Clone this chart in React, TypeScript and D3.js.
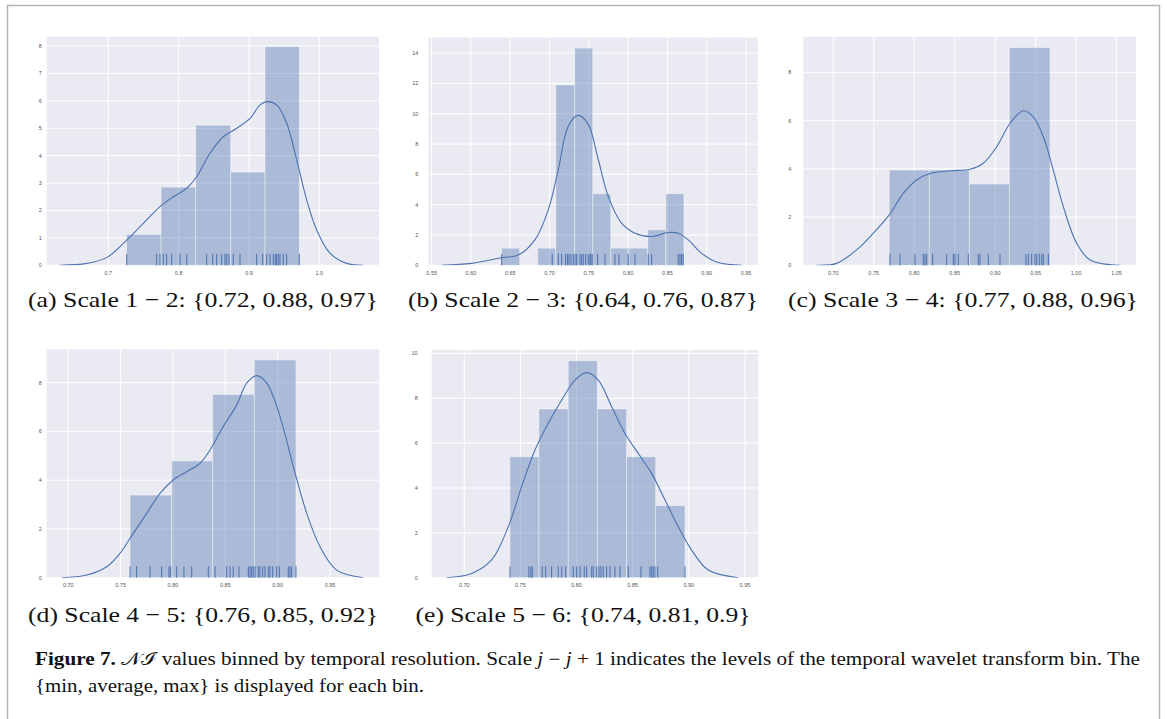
import * as d3 from "d3";

// ---- panel (a) Scale 1-2
const edgesA = [0.726, 0.775, 0.8243, 0.874, 0.9228, 0.9716];
const heightsA = [1.12, 2.85, 5.11, 3.4, 7.98];
const rugA = [0.7262, 0.7688, 0.7735, 0.7782, 0.783, 0.7901, 0.8019, 0.8115, 0.8399, 0.8484, 0.8541, 0.8612, 0.8659, 0.8684, 0.8716, 0.8777, 0.8873, 0.911, 0.9195, 0.9252, 0.9299, 0.9346, 0.9375, 0.9394, 0.9417, 0.9441, 0.9488, 0.9537, 0.9716];
const kdeA: [number, number][] = [[0.6313, 0], [0.6693, 0.07], [0.6977, 0.28], [0.7262, 0.92], [0.7498, 1.53], [0.7735, 2.14], [0.7924, 2.5], [0.8115, 2.81], [0.8257, 3.23], [0.8446, 4.09], [0.8635, 4.69], [0.8826, 5.0], [0.9015, 5.36], [0.9157, 5.85], [0.9252, 5.97], [0.9394, 5.85], [0.9537, 5.18], [0.9679, 3.84], [0.9821, 2.38], [0.9963, 1.29], [1.0152, 0.44], [1.039, 0.07], [1.0626, 0]];
const xTicksA = [0.7, 0.8, 0.9, 1.0];
const yTicksA = [0, 1, 2, 3, 4, 5, 6, 7, 8];

// ---- panel (b) Scale 2-3
const edgesB = [0.639, 0.662, 0.685, 0.708, 0.732, 0.755, 0.778, 0.801, 0.825, 0.848, 0.871];
const heightsB = [1.13, 0, 1.13, 11.9, 14.33, 4.72, 1.13, 1.13, 2.34, 4.72];
const rugB = [0.6391, 0.7034, 0.7111, 0.7154, 0.7205, 0.723, 0.7247, 0.7272, 0.7302, 0.7323, 0.7345, 0.7387, 0.7408, 0.7429, 0.7459, 0.7492, 0.7514, 0.7527, 0.7543, 0.7612, 0.7705, 0.7832, 0.7883, 0.8001, 0.8087, 0.8256, 0.8299, 0.8637, 0.8659, 0.868, 0.8701];
const kdeB: [number, number][] = [[0.5627, 0], [0.6009, 0.13], [0.6391, 0.5], [0.6602, 0.68], [0.6814, 1.68], [0.6984, 3.66], [0.7111, 6.3], [0.7238, 9.18], [0.7365, 9.89], [0.7492, 9.3], [0.762, 6.98], [0.7747, 4.55], [0.7917, 2.78], [0.8087, 2.12], [0.8299, 1.9], [0.851, 2.16], [0.8637, 2.12], [0.8765, 1.68], [0.8935, 0.79], [0.9146, 0.18], [0.9444, 0]];
const xTicksB = [0.55, 0.6, 0.65, 0.7, 0.75, 0.8, 0.85, 0.9, 0.95];
const yTicksB = [0, 2, 4, 6, 8, 10, 12, 14];

// ---- panel (c) Scale 3-4
const edgesC = [0.7692, 0.8186, 0.868, 0.9175, 0.9678];
const heightsC = [3.95, 3.95, 3.37, 9.03];
const rugC = [0.7701, 0.7824, 0.801, 0.8112, 0.8133, 0.8154, 0.8228, 0.8401, 0.8483, 0.8504, 0.8545, 0.8668, 0.8792, 0.8813, 0.8915, 0.906, 0.9381, 0.941, 0.9451, 0.9492, 0.9513, 0.9545, 0.9575, 0.9595, 0.9657];
const kdeC: [number, number][] = [[0.6795, 0], [0.7042, 0.08], [0.7289, 0.64], [0.7494, 1.33], [0.7692, 2.09], [0.7865, 2.98], [0.803, 3.54], [0.8195, 3.81], [0.8442, 3.92], [0.8689, 3.98], [0.8853, 4.23], [0.9019, 4.92], [0.9183, 5.88], [0.9348, 6.41], [0.9471, 6.16], [0.9595, 5.33], [0.9718, 3.95], [0.9842, 2.43], [1.0008, 0.91], [1.0172, 0.22], [1.054, 0]];
const xTicksC = [0.7, 0.75, 0.8, 0.85, 0.9, 0.95, 1.0, 1.05];
const yTicksC = [0, 2, 4, 6, 8];

// ---- panel (d) Scale 4-5
const edgesD = [0.759, 0.7988, 0.838, 0.8777, 0.9175];
const heightsD = [3.39, 4.79, 7.52, 8.93];
const rugD = [0.759, 0.7653, 0.7781, 0.7892, 0.7962, 0.7978, 0.8036, 0.8105, 0.8179, 0.8338, 0.8402, 0.8513, 0.8545, 0.8576, 0.8631, 0.872, 0.8736, 0.8752, 0.8767, 0.8784, 0.8815, 0.8831, 0.8857, 0.8879, 0.8911, 0.8927, 0.8953, 0.8991, 0.9016, 0.9102, 0.9118, 0.9134, 0.9175];
const kdeD: [number, number][] = [[0.6937, 0], [0.7176, 0.11], [0.7367, 0.45], [0.7494, 1.0], [0.7621, 1.82], [0.7749, 2.64], [0.7876, 3.46], [0.8003, 4.01], [0.8131, 4.35], [0.8258, 4.69], [0.8354, 5.24], [0.8481, 6.2], [0.8609, 7.09], [0.8704, 7.98], [0.88, 8.29], [0.8896, 7.98], [0.9023, 6.61], [0.915, 4.56], [0.9278, 2.64], [0.9405, 1.27], [0.9564, 0.31], [0.9818, 0]];
const xTicksD = [0.7, 0.75, 0.8, 0.85, 0.9, 0.95];
const yTicksD = [0, 2, 4, 6, 8];

// ---- panel (e) Scale 5-6
const edgesE = [0.7407, 0.7665, 0.7926, 0.8185, 0.8446, 0.8705, 0.8966];
const heightsE = [5.39, 7.52, 9.67, 7.52, 5.39, 3.21];
const rugE = [0.7407, 0.7576, 0.7594, 0.7606, 0.7695, 0.7725, 0.7778, 0.7837, 0.7868, 0.7903, 0.7971, 0.8001, 0.8031, 0.8069, 0.809, 0.8135, 0.8149, 0.8179, 0.82, 0.8218, 0.8238, 0.8268, 0.8298, 0.8342, 0.8387, 0.8461, 0.8574, 0.8654, 0.8669, 0.8683, 0.8699, 0.8723, 0.8966];
const kdeE: [number, number][] = [[0.6843, 0], [0.7066, 0.19], [0.7244, 0.79], [0.7392, 2.27], [0.7511, 4.06], [0.763, 5.69], [0.7748, 6.88], [0.7868, 7.92], [0.7986, 8.81], [0.809, 9.14], [0.8194, 8.81], [0.8313, 7.62], [0.8431, 6.43], [0.855, 5.54], [0.8669, 4.65], [0.8788, 3.46], [0.8906, 2.27], [0.9025, 1.23], [0.9173, 0.34], [0.944, 0]];
const xTicksE = [0.7, 0.75, 0.8, 0.85, 0.9, 0.95];
const yTicksE = [0, 2, 4, 6, 8, 10];

const captions = [
  "(a) Scale 1 \u2212 2: {0.72, 0.88, 0.97}",
  "(b) Scale 2 \u2212 3: {0.64, 0.76, 0.87}",
  "(c) Scale 3 \u2212 4: {0.77, 0.88, 0.96}",
  "(d) Scale 4 \u2212 5: {0.76, 0.85, 0.92}",
  "(e) Scale 5 \u2212 6: {0.74, 0.81, 0.9}",
];

const BLUE = "#4C72B0";

type PanelProps = {
  id: string;
  box: { l: number; r: number; t: number; b: number };
  xDomain: [number, number];
  yMax: number;
  edges: number[];
  heights: number[];
  rug: number[];
  kde: [number, number][];
  xTicks: number[];
  yTicks: number[];
  xFmt: string;
  yLabelGap: number;
};

const Panel = (p: PanelProps) => {
  const { l, r, t, b } = p.box;
  const x = d3.scaleLinear().domain(p.xDomain).range([l, r]);
  const y = d3.scaleLinear().domain([0, p.yMax]).range([b, t]);
  const fmt = d3.format(p.xFmt);
  const line = d3
    .line<[number, number]>()
    .x((d) => x(d[0]))
    .y((d) => y(d[1]))
    .curve(d3.curveCatmullRom);
  const rugH = (b - t) * 0.05;

  return (
    <g>
      <defs>
        <clipPath id={"clip" + p.id}>
          <rect x={l} y={t} width={r - l} height={b - t} />
        </clipPath>
      </defs>
      <rect x={l} y={t} width={r - l} height={b - t} fill="#EAEAF2" />
      {p.yTicks.map((v) => (
        <line key={"gy" + v} x1={l} x2={r} y1={y(v)} y2={y(v)} stroke="#fff" strokeWidth={1} />
      ))}
      {p.xTicks.map((v) => (
        <line key={"gx" + v} x1={x(v)} x2={x(v)} y1={t} y2={b} stroke="#fff" strokeWidth={1} />
      ))}
      {p.heights.map((h, i) => (
        <rect
          key={"bar" + i}
          x={x(p.edges[i])}
          y={y(h)}
          width={x(p.edges[i + 1]) - x(p.edges[i])}
          height={b - y(h)}
          fill={BLUE}
          fillOpacity={0.4}
          stroke="#fff"
          strokeOpacity={0.5}
          strokeWidth={0.8}
        />
      ))}
      <g clipPath={`url(#clip${p.id})`}>
        <path d={line(p.kde) || ""} fill="none" stroke={BLUE} strokeWidth={1.1} />
      </g>
      {p.rug.map((v, i) => (
        <line key={"rug" + i} x1={x(v)} x2={x(v)} y1={b} y2={b - rugH} stroke={BLUE} strokeWidth={1} />
      ))}
      {p.xTicks.map((v) => (
        <text key={"tx" + v} x={x(v)} y={b + 9.5} textAnchor="middle" fontSize={5.5} fill="#555" fontFamily="Liberation Sans, Arial, sans-serif">
          {fmt(v)}
        </text>
      ))}
      {p.yTicks.map((v) => (
        <text key={"ty" + v} x={l - p.yLabelGap} y={y(v) + 2} textAnchor="end" fontSize={5.5} fill="#555" fontFamily="Liberation Sans, Arial, sans-serif">
          {v}
        </text>
      ))}
    </g>
  );
};

const panels: PanelProps[] = [
  { id: "a", box: { l: 46.7, r: 379, t: 36.7, b: 265.3 }, xDomain: [0.6124, 1.0849], yMax: 8.34, edges: edgesA, heights: heightsA, rug: rugA, kde: kdeA, xTicks: xTicksA, yTicks: yTicksA, xFmt: ".1f", yLabelGap: 5 },
  { id: "b", box: { l: 428.3, r: 757.7, t: 37.5, b: 265.3 }, xDomain: [0.5457, 0.9649], yMax: 15.03, edges: edgesB, heights: heightsB, rug: rugB, kde: kdeB, xTicks: xTicksB, yTicks: yTicksB, xFmt: ".2f", yLabelGap: 10 },
  { id: "c", box: { l: 803.3, r: 1136, t: 36.7, b: 265.3 }, xDomain: [0.663, 1.074], yMax: 9.48, edges: edgesC, heights: heightsC, rug: rugC, kde: kdeC, xTicks: xTicksC, yTicks: yTicksC, xFmt: ".2f", yLabelGap: 12 },
  { id: "d", box: { l: 46.7, r: 379.3, t: 349.3, b: 577.7 }, xDomain: [0.6794, 0.9971], yMax: 9.37, edges: edgesD, heights: heightsD, rug: rugD, kde: kdeD, xTicks: xTicksD, yTicks: yTicksD, xFmt: ".2f", yLabelGap: 5 },
  { id: "e", box: { l: 431.7, r: 758.3, t: 350, b: 577.7 }, xDomain: [0.671, 0.9619], yMax: 10.15, edges: edgesE, heights: heightsE, rug: rugE, kde: kdeE, xTicks: xTicksE, yTicks: yTicksE, xFmt: ".2f", yLabelGap: 14 },
];

const capPos = [
  { cx: 203, y: 307 },
  { cx: 583, y: 307 },
  { cx: 963, y: 307 },
  { cx: 203, y: 622 },
  { cx: 583, y: 622 },
];

export default function App() {
  const serif = "'Times New Roman', 'Liberation Serif', Tinos, serif";
  return (
    <div style={{ position: "absolute", left: 0, top: 0 }}>
      <svg width={1167} height={719} style={{ display: "block", background: "#fff" }}>
        <rect x={7.5} y={5.5} width={1152} height={720} fill="none" stroke="#b5b5b5" strokeWidth={1.5} />
        {panels.map((p) => (
          <Panel key={p.id} {...p} />
        ))}
        {captions.map((c, i) => (
          <text
            key={c}
            x={capPos[i].cx}
            y={capPos[i].y}
            textAnchor="middle"
            fontSize={22}
            style={{ fontFamily: serif }}
            fill="#111"
            textLength={i === 4 ? 335 : 350}
            lengthAdjust="spacingAndGlyphs"
          >
            {c}
          </text>
        ))}
        <text x={35} y={665} fontSize={18} style={{ fontFamily: serif }} fill="#111" textLength={1105} lengthAdjust="spacingAndGlyphs">
          <tspan fontWeight="bold">Figure 7.</tspan>
          <tspan> {"\u{1D4A9}\u2110"} values binned by temporal resolution. Scale </tspan>
          <tspan fontStyle="italic">j</tspan>
          <tspan> {"\u2212"} </tspan>
          <tspan fontStyle="italic">j</tspan>
          <tspan> + 1 indicates the levels of the temporal wavelet transform bin. The</tspan>
        </text>
        <text x={35} y={692} fontSize={18} style={{ fontFamily: serif }} fill="#111" textLength={389} lengthAdjust="spacingAndGlyphs">
          {"{min, average, max} is displayed for each bin."}
        </text>
      </svg>
    </div>
  );
}
